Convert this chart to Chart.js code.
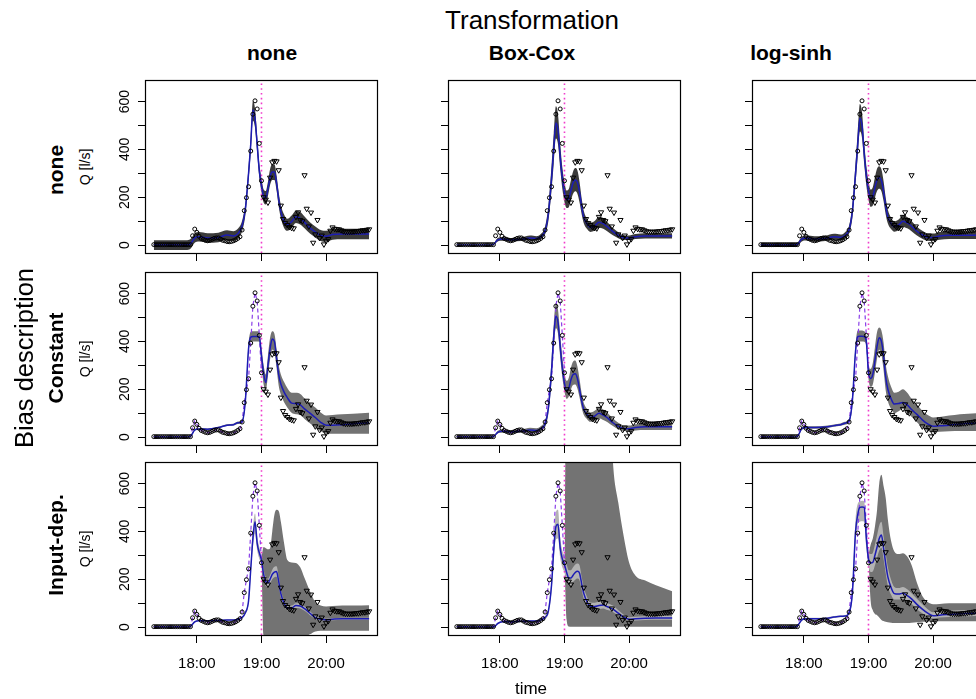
<!DOCTYPE html>
<html><head><meta charset="utf-8">
<script src="https://cdn.jsdelivr.net/npm/chart.js@4.4.0/dist/chart.umd.min.js"></script>
<style>
html,body{margin:0;padding:0;background:#fff;overflow:hidden;width:976px;height:699px;}
#root{position:relative;width:976px;height:699px;overflow:hidden;font-family:"Liberation Sans",Arial,sans-serif;color:#000}
.t{position:absolute;white-space:nowrap;transform:translate(-50%,-50%);line-height:1}
.v{transform:translate(-50%,-50%) rotate(-90deg)}
canvas{position:absolute}
</style></head><body><div id="root"></div>
<script>
// ---------- data ----------
const ROW_LABELS = ['none', 'Constant', 'Input-dep.'];
const COL_LABELS = ['none', 'Box-Cox', 'log-sinh'];
const X_TICKS = [60, 120, 180];            // minutes after 17:00
const X_TICK_LABELS = ['18:00', '19:00', '20:00'];
const Y_TICKS = [0, 100, 200, 300, 400, 500, 600];
const Y_TICK_LABELS = ['0', '', '200', '', '400', '', '600'];
const VLINE_T = 120;                       // 19:00, end of calibration

// observations (circles: calibration, triangles: validation)
const OBS_T_CAL = [20,22,24,26,28,30,32,34,36,38,40,42,44,46,48,50,52,54,56,58,60,62,64,66,68,70,72,74,76,78,80,82,84,86,88,90,92,94,96,98,100,102,104,106,108,110,112,114,116,118,120];
const OBS_Q_CAL = [2,2,2,2,2,2,2,2,2,2,2,2,2,2,2,2,2,2,39,67,53,37,28,24,20,18,20,24,28,30,30,25,20,18,15,14,15,18,22,28,35,63,144,198,244,393,547,603,569,425,269];
const OBS_T_VAL = [122,124,126,128,130,132,134,136,138,140,142,144,146,148,150,152,154,156,158,160,162,164,166,168,170,172,174,176,178,180,182,184,186,188,190,192,194,196,198,200,202,204,206,208,210,212,214,216,218,220];
const OBS_Q_VAL = [200,190,178,282,346,352,350,313,165,109,92,84,76,72,70,118,137,105,100,292,152,78,136,10,45,105,30,40,3,18,25,60,74,68,66,66,62,58,56,56,56,56,57,58,58,60,62,62,64,66];

// model time grids
const MT = [20,50,54,58,62,70,80,88,94,98,102,105,108,110,112,114,116,118,120,122,124,126,128,130,132,134,136,138,141,144,148,152,156,160,165,170,175,180,186,195,205,220];
const MT_VAL = [120,122,124,126,128,130,132,134,136,138,141,144,148,152,156,160,165,170,175,180,186,195,205,220];

// row 1: bias none
const BLUE_N_N = [0,0,5,30,35,30,32,42,38,48,80,150,300,420,565,530,420,310,250,205,198,235,285,305,305,260,190,140,100,85,98,118,112,95,72,55,40,37,44,46,46,46];
const DLO_N_N = [-20,-20,-15,10,15,10,12,22,18,28,58,125,270,385,520,490,385,280,222,178,170,205,252,272,272,228,160,112,72,60,72,92,86,70,48,32,17,14,22,24,24,24];
const DHI_N_N = [20,20,25,50,55,50,52,62,58,68,102,175,330,455,600,570,455,340,278,232,226,265,318,338,338,292,220,168,128,110,124,144,138,120,96,78,63,60,66,68,68,68];
const BLUE_BC_N = [0,0,3,22,25,22,24,30,28,35,60,130,280,400,510,480,370,280,220,190,195,228,260,272,262,220,160,115,88,74,80,96,90,76,56,41,31,30,35,38,38,38];
const DLO_BC_N = [0,0,1,15,18,15,17,22,20,26,45,100,230,340,445,420,320,235,180,155,158,188,215,225,215,178,128,90,67,55,60,73,68,57,41,29,21,21,25,28,28,28];
const DHI_BC_N = [0,0,6,30,33,30,32,40,37,46,78,165,335,465,580,545,425,325,262,228,234,272,308,322,312,264,194,142,110,94,101,120,113,96,72,54,41,40,46,50,50,50];
const BLUE_LS_N = [0,0,3,25,30,26,28,35,32,40,65,140,300,420,530,500,385,290,228,195,202,240,272,282,270,225,162,118,90,77,84,100,93,79,58,43,33,32,38,41,41,41];
const DLO_LS_N = [-8,-8,-5,15,19,15,17,23,20,27,48,112,258,370,475,448,340,250,190,160,165,198,227,236,225,184,128,90,67,56,62,76,70,58,40,27,18,17,22,25,25,25];
const DHI_LS_N = [8,8,11,35,41,37,39,47,44,53,82,170,345,475,590,555,432,332,268,232,242,284,320,330,317,268,198,148,115,99,107,126,117,101,77,60,49,48,55,58,58,58];

// row 2: constant bias
const BLUE_N_C = [0,0,3,30,34,33,40,50,52,60,65,150,370,418,420,420,420,418,340,265,228,300,370,410,400,330,260,222,188,165,142,140,135,118,100,82,62,50,50,52,56,60];
const DLO_N_C = [0,0,0,27,31,30,37,46,48,55,58,135,350,398,400,400,400,398,300,220,195,255,325,365,355,290,215,178,146,124,102,96,92,76,58,40,24,14,14,14,14,14];
const DHI_N_C = [0,0,6,33,37,36,43,54,56,65,72,165,390,440,442,442,442,440,370,300,262,340,415,442,432,368,300,262,230,205,185,185,180,162,142,124,103,90,92,95,98,102];
const BLUE_BC_C = [0,0,2,20,24,22,24,30,28,35,55,120,280,420,505,480,380,290,225,195,205,240,262,265,245,200,150,115,95,82,88,100,92,80,60,45,36,35,40,43,43,43];
const DLO_BC_C = [0,0,1,15,18,16,18,23,21,27,42,98,235,370,455,432,335,250,190,160,170,200,218,220,203,165,122,92,75,64,69,79,72,62,46,33,25,24,28,30,30,30];
const DHI_BC_C = [0,0,4,27,31,29,31,39,37,45,70,145,325,470,560,532,430,335,265,235,248,290,316,320,295,242,182,142,118,103,110,125,115,101,78,60,49,48,54,58,58,58];
const BLUE_LS_C = [0,0,3,35,40,40,42,48,52,58,68,150,360,420,422,422,420,400,270,245,262,320,380,415,400,340,250,200,160,138,140,145,135,115,95,72,55,45,47,50,55,59];
const DLO_LS_C = [0,0,0,30,35,35,37,43,47,52,60,130,340,400,400,400,398,378,245,210,220,270,330,365,345,280,195,150,118,100,108,118,105,85,62,40,26,20,22,24,25,26];
const DHI_LS_C = [0,0,6,40,45,45,47,53,57,64,76,170,385,445,445,445,442,425,300,285,310,375,440,458,445,395,305,255,210,185,190,200,185,160,135,110,92,82,84,90,96,100];

// row 3: input-dependent bias
const BLUE_N_I = [0,0,3,22,27,27,28,30,30,32,40,60,110,240,370,440,350,310,280,220,190,185,200,220,230,232,190,140,100,80,80,90,88,77,58,40,33,31,33,35,35,35];
const LLO_N_I = [0,0,1,19,24,24,25,27,27,29,36,54,98,215,330,390,320,285,262,200,172,168,182,200,208,210,170,125,88,70,70,80,78,68,50,34,28,27,29,31,31,31];
const LHI_N_I = [0,0,5,25,30,30,31,33,33,35,44,66,122,265,410,475,380,335,298,240,208,202,218,240,252,254,210,155,112,90,90,100,98,86,66,46,38,35,37,39,39,39];
const DLO_N_I = [270,-40,-40,-40,-40,-40,-40,-40,-40,-40,-40,-40,-40,-40,-40,-40,-30,-18,-15,-15,-15,-15,-15,-15];
const DHI_N_I = [290,335,330,325,330,400,470,490,485,440,350,280,270,268,250,205,150,105,90,86,88,90,90,91];
const BLUE_BC_I = [0,0,0,15,22,22,24,25,25,30,40,66,177,320,420,430,331,285,261,228,205,205,217,228,233,225,180,140,105,87,86,90,92,85,75,58,42,33,35,37,38,38];
const LLO_BC_I = [0,0,0,12,19,19,21,22,22,26,34,55,150,280,365,370,290,250,228,195,175,176,188,198,203,195,155,118,88,72,72,76,78,71,63,48,34,26,28,30,31,31];
const LHI_BC_I = [0,0,1,18,25,25,27,28,28,34,46,78,205,365,480,490,375,320,295,262,238,238,250,262,266,258,208,165,125,103,102,106,108,100,90,70,52,41,43,45,46,46];
const DLO_BC_I = [258,30,3,2,2,2,2,2,2,2,2,2,2,2,2,2,2,2,2,2,2,2,2,2];
const DHI_BC_I = [265,1200,1200,1200,1200,1200,1200,1200,1200,1200,1200,1200,1200,1200,1200,1200,690,520,380,270,215,195,175,150];
const BLUE_LS_I = [0,0,5,30,35,35,36,42,45,46,60,140,400,470,500,502,500,372,285,268,270,300,335,370,385,330,265,210,165,140,138,142,132,118,95,75,58,47,50,53,56,58];
const LLO_LS_I = [0,0,3,26,31,31,32,38,41,42,54,120,350,430,440,442,440,330,255,230,232,258,290,320,332,285,225,172,135,115,115,120,110,98,75,58,45,36,40,42,44,46];
const LHI_LS_I = [0,0,7,34,39,39,40,46,49,50,68,165,450,515,525,528,525,415,320,305,310,345,385,425,440,380,310,250,198,168,163,168,158,142,118,95,75,62,64,68,70,72];
const DLO_LS_I = [280,110,70,55,50,40,30,25,22,20,18,17,17,17,17,18,20,22,22,24,24,24,24,24];
const DHI_LS_I = [300,344,370,420,490,600,637,590,540,450,360,316,305,309,295,260,185,130,105,96,97,100,100,100];

// ---------- layout ----------
const X_MIN = 11.8, X_MAX = 227.3, Y_MIN = -33, Y_MAX = 690;
const PL = [145, 448, 752], PT = [80, 272, 462], PW = 232, PH = 173;
const AXW = 50, AXH = 45, PADT = 10, PADR = 10;
const FONT = '"Liberation Sans", Arial, sans-serif';
Chart.defaults.font.family = FONT;
Chart.defaults.color = '#000';

const PANELS = [
  {r:0,c:0,blue:BLUE_N_N,dlo:DLO_N_N,dhi:DHI_N_N,dt:MT},
  {r:0,c:1,blue:BLUE_BC_N,dlo:DLO_BC_N,dhi:DHI_BC_N,dt:MT},
  {r:0,c:2,blue:BLUE_LS_N,dlo:DLO_LS_N,dhi:DHI_LS_N,dt:MT},
  {r:1,c:0,blue:BLUE_N_C,dlo:DLO_N_C,dhi:DHI_N_C,dt:MT},
  {r:1,c:1,blue:BLUE_BC_C,dlo:DLO_BC_C,dhi:DHI_BC_C,dt:MT},
  {r:1,c:2,blue:BLUE_LS_C,dlo:DLO_LS_C,dhi:DHI_LS_C,dt:MT},
  {r:2,c:0,blue:BLUE_N_I,llo:LLO_N_I,lhi:LHI_N_I,dlo:DLO_N_I,dhi:DHI_N_I,dt:MT_VAL},
  {r:2,c:1,blue:BLUE_BC_I,llo:LLO_BC_I,lhi:LHI_BC_I,dlo:DLO_BC_I,dhi:DHI_BC_I,dt:MT_VAL},
  {r:2,c:2,blue:BLUE_LS_I,llo:LLO_LS_I,lhi:LHI_LS_I,dlo:DLO_LS_I,dhi:DHI_LS_I,dt:MT_VAL},
];

const root = document.getElementById('root');
function pts(xs, ys){ return xs.map((x,i)=>({x:x, y:ys[i]})); }

const boxPlugin = { id:'box', afterDatasetsDraw(chart){
  const a = chart.chartArea, ctx = chart.ctx;
  ctx.save(); ctx.strokeStyle = '#000'; ctx.lineWidth = 1.2;
  ctx.strokeRect(Math.round(a.left)+0.5, Math.round(a.top)+0.5, Math.round(a.right-a.left), Math.round(a.bottom-a.top));
  ctx.restore();
}};

PANELS.forEach(p => {
  const cv = document.createElement('canvas');
  const W = AXW + PW + PADR, H = PADT + PH + AXH;
  cv.width = W; cv.height = H;
  cv.style.left = (PL[p.c] - AXW) + 'px';
  cv.style.top = (PT[p.r] - PADT) + 'px';
  cv.style.width = W + 'px'; cv.style.height = H + 'px';
  root.appendChild(cv);

  const darkCol = p.r === 0 ? '#3b3b3b' : '#737373';
  const ds = [];
  ds.push({data:pts(p.dt,p.dlo), borderWidth:0, pointRadius:0, fill:false, order:9, cubicInterpolationMode:'monotone'});
  ds.push({data:pts(p.dt,p.dhi), borderWidth:0, pointRadius:0, fill:'-1', backgroundColor:darkCol, order:8, cubicInterpolationMode:'monotone'});
  if (p.llo) {
    ds.push({data:pts(MT,p.llo), borderWidth:0, pointRadius:0, fill:false, order:7, cubicInterpolationMode:'monotone'});
    ds.push({data:pts(MT,p.lhi), borderWidth:0, pointRadius:0, fill:'-1', backgroundColor:'#b3b3b3', order:6, cubicInterpolationMode:'monotone'});
  }
  ds.push({data:[{x:VLINE_T,y:Y_MIN},{x:VLINE_T,y:Y_MAX}], borderColor:'#f03ccc', borderWidth:1.6, borderDash:[1.6,3.2], pointRadius:0, fill:false, order:5});
  if (p.r > 0) {
    ds.push({data:pts(OBS_T_CAL,OBS_Q_CAL), borderColor:'#8a3fe8', borderWidth:1.2, borderDash:[4,3], pointRadius:0, fill:false, order:4});
  }
  ds.push({data:pts(MT,p.blue), borderColor:'#1c1cb4', borderWidth:1.5, pointRadius:0, fill:false, order:3, cubicInterpolationMode:'monotone'});
  ds.push({data:pts(OBS_T_CAL,OBS_Q_CAL), showLine:false, pointStyle:'circle', pointRadius:2, pointBorderWidth:1, pointBorderColor:'#000', pointBackgroundColor:'rgba(0,0,0,0)', order:2});
  ds.push({data:pts(OBS_T_VAL,OBS_Q_VAL), showLine:false, pointStyle:'triangle', pointRotation:180, pointRadius:3, pointBorderWidth:1, pointBorderColor:'#000', pointBackgroundColor:'rgba(0,0,0,0)', order:1});

  const showX = p.r === 2, showY = p.c === 0;
  new Chart(cv, {
    type:'line',
    data:{datasets:ds},
    plugins:[boxPlugin],
    options:{
      responsive:false, animation:false, devicePixelRatio:1, events:[],
      layout:{padding:{left:0,right:PADR,top:PADT,bottom:0}},
      plugins:{legend:{display:false}, tooltip:{enabled:false}},
      scales:{
        x:{type:'linear', min:X_MIN, max:X_MAX,
           afterBuildTicks:s=>{ s.ticks = X_TICKS.map(v=>({value:v})); },
           afterFit:s=>{ s.height = AXH; },
           grid:{drawOnChartArea:false, drawTicks:true, tickLength:8, color:'#000', lineWidth:1},
           border:{display:false},
           ticks:{autoSkip:false, maxRotation:0, minRotation:0, padding:12, color:'#000', font:{size:15, family:FONT},
                  callback:(v,i)=> showX ? X_TICK_LABELS[i] : ''}},
        y:{type:'linear', min:Y_MIN, max:Y_MAX,
           afterBuildTicks:s=>{ s.ticks = Y_TICKS.map(v=>({value:v})); },
           afterFit:s=>{ s.width = AXW; },
           grid:{drawOnChartArea:false, drawTicks:true, tickLength:7, color:'#000', lineWidth:1},
           border:{display:false},
           ticks:{autoSkip:false, minRotation:90, maxRotation:90, crossAlign:'center', padding:1, color:'#000', font:{size:14, family:FONT},
                  callback:(v,i)=> showY ? Y_TICK_LABELS[i] : ''}}
      }
    }
  });
});

// ---------- text ----------
function txt(s, x, y, css, vertical){
  const d = document.createElement('div');
  d.className = 't' + (vertical ? ' v' : '');
  d.textContent = s;
  d.style.left = x + 'px'; d.style.top = y + 'px';
  d.style.cssText += css;
  root.appendChild(d);
}
txt('Transformation', 532, 20, 'font-size:26px;');
const COL_X = [272, 532, 791];
COL_LABELS.forEach((s,i)=> txt(s, COL_X[i], 52, 'font-size:21px;font-weight:bold;'));
const ROW_Y = [170, 358, 545];
ROW_LABELS.forEach((s,i)=> {
  txt(s, 55, ROW_Y[i], 'font-size:21px;font-weight:bold;', true);
  txt('Q [l/s]', 85, PT[i] + PH/2, 'font-size:14px;', true);
});
txt('Bias description', 25, 358, 'font-size:25.5px;', true);
txt('time', 531, 688, 'font-size:17px;');
</script></body></html>
